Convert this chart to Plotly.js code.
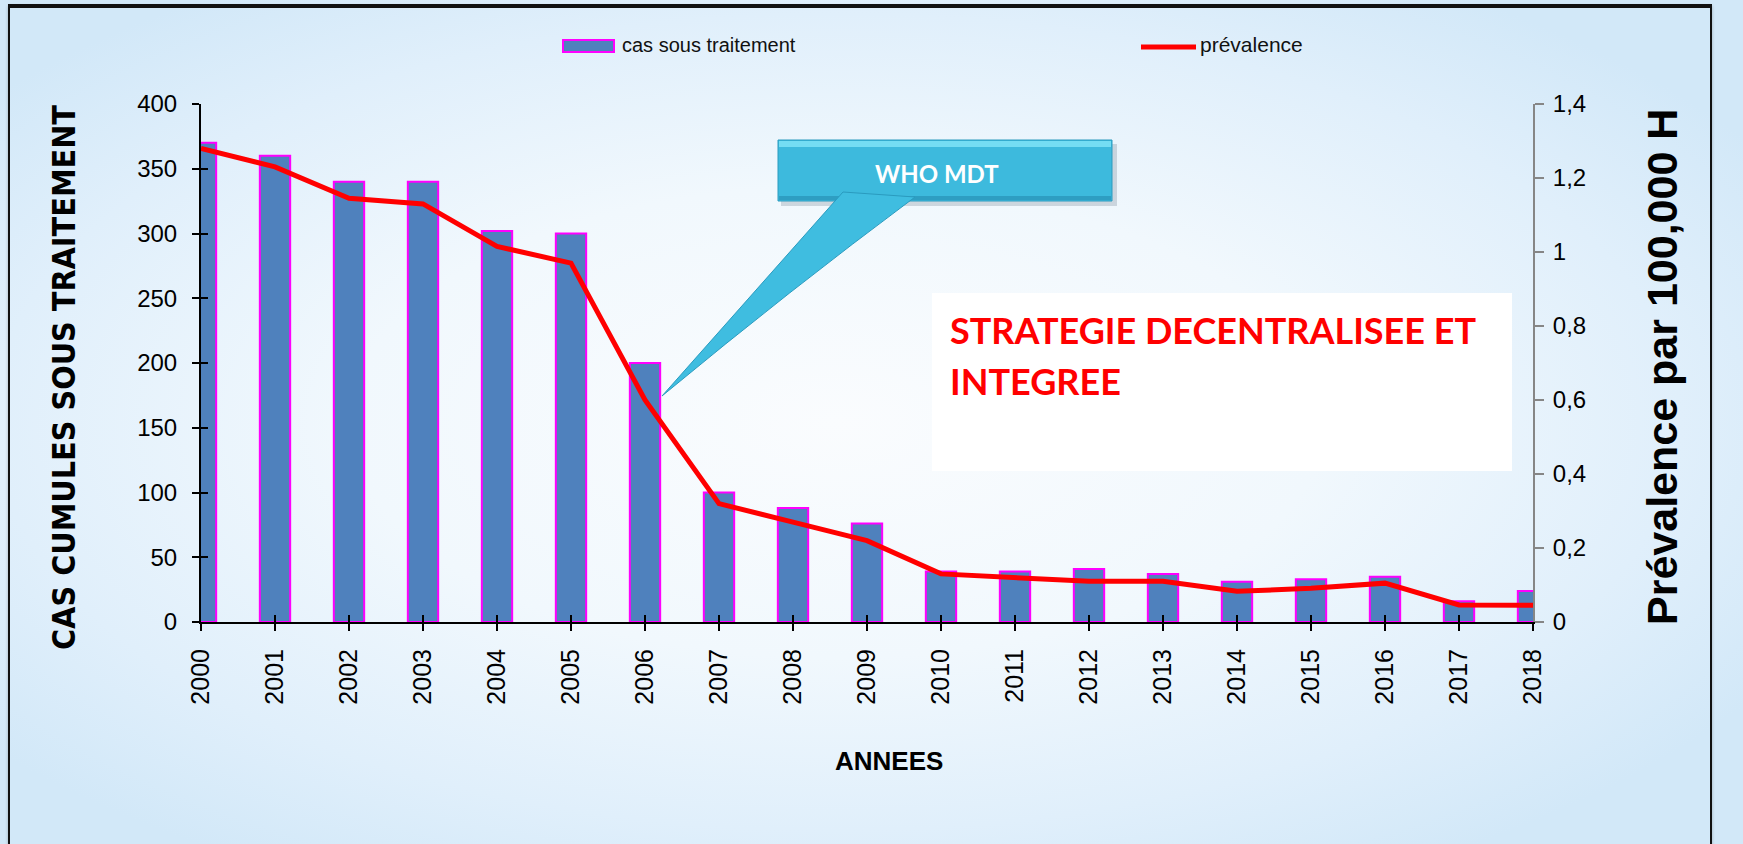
<!DOCTYPE html>
<html>
<head>
<meta charset="utf-8">
<script src="https://cdn.plot.ly/plotly-3.0.1.min.js"></script>
<style>
  html, body { margin:0; padding:0; }
  body { width:1743px; height:844px; overflow:hidden; position:relative;
         background: radial-gradient(ellipse 62% 62% at 48% 50%, #fafcfe 0%, #f1f8fd 45%, #e0effb 78%, #d2e8f8 100%); }
  #frame { position:absolute; left:8px; top:4px; width:1700px; height:860px;
           border-left:2px solid #111; border-right:2px solid #111; border-top:4px solid #111;
           box-shadow: 0 2px 3px rgba(0,0,0,0.25); }
  #chart { position:absolute; left:0; top:0; width:1743px; height:844px; }
</style>
</head>
<body>
<div id="frame"></div>
<div id="chart"></div>
<script>
// ---- data ----
const years = [2000,2001,2002,2003,2004,2005,2006,2007,2008,2009,2010,2011,2012,2013,2014,2015,2016,2017,2018];
const yearLabels = ["2000","2001","2002","2003","2004","2005","2006","2007","2008","2009","2010","2011","2012","2013","2014","2015","2016","2017","2018"];
const casSousTraitement = [370,360,340,340,302,300,200,100,88,76,39,39,41,37,31,33,35,16,24];
const prevalence = [1.28,1.23,1.145,1.13,1.015,0.97,0.60,0.32,0.27,0.22,0.13,0.12,0.11,0.11,0.083,0.091,0.105,0.046,0.045];
const leftTicks = [0,50,100,150,200,250,300,350,400];
const rightTicks = [0,0.2,0.4,0.6,0.8,1,1.2,1.4];
const rightTickText = ["0","0,2","0,4","0,6","0,8","1","1,2","1,4"];
const seriesNames = ["cas sous traitement","prévalence"];

const FONT = "Liberation Sans, Arial, Helvetica, sans-serif";
const COND = "DejaVu Sans Condensed, DejaVu Sans, sans-serif";
const CALI = "Lato, Open Sans, sans-serif";

const traces = [
  { type:'bar', name:seriesNames[0], x:years, y:casSousTraitement, width:0.41,
    marker:{color:'#4F81BD', line:{color:'#FF00FF', width:2}},
    xaxis:'x', yaxis:'y', showlegend:false, hoverinfo:'x+y' },
  { type:'scatter', mode:'lines', name:seriesNames[1], x:years, y:prevalence,
    line:{color:'#FF0000', width:5}, xaxis:'x', yaxis:'y2', showlegend:false, hoverinfo:'x+y' },
  { type:'scatter', mode:'lines', x:[], y:[], xaxis:'x2', yaxis:'y', showlegend:false, hoverinfo:'skip' },
  { type:'scatter', mode:'lines', x:[], y:[], xaxis:'x', yaxis:'y3', showlegend:false, hoverinfo:'skip' }
];

// paper helpers (plot area: x 201..1533, y 104..622)
const L=201, R=1533, T=104, B=622;
const px = v => (v-L)/(R-L);
const py = v => (B-v)/(B-T);

const shapes = [
  // legend symbols
  {type:'rect', xref:'paper', yref:'paper', x0:px(563), x1:px(614), y0:py(52), y1:py(40),
   fillcolor:'#4F81BD', line:{color:'#FF00FF', width:2}},
  {type:'line', xref:'paper', yref:'paper', x0:px(1141), x1:px(1196), y0:py(47), y1:py(47),
   line:{color:'#FF0000', width:5}},
  // white text box
  {type:'rect', xref:'paper', yref:'paper', x0:px(932), x1:px(1512), y0:py(471), y1:py(293),
   fillcolor:'#FFFFFF', line:{width:0}},
  // callout shadow
  {type:'rect', xref:'paper', yref:'paper', x0:px(781), x1:px(1117), y0:py(206), y1:py(144),
   fillcolor:'rgba(60,80,100,0.20)', line:{width:0}},
  // callout box
  {type:'rect', xref:'paper', yref:'paper', x0:px(778), x1:px(1112), y0:py(201), y1:py(140),
   fillcolor:'#3DBADD', line:{color:'#2A9BBF', width:1}},
  {type:'rect', xref:'paper', yref:'paper', x0:px(779), x1:px(1111), y0:py(147), y1:py(141),
   fillcolor:'#74DDF3', line:{width:0}},
  {type:'rect', xref:'paper', yref:'paper', x0:px(779), x1:px(1111), y0:py(200), y1:py(196),
   fillcolor:'#2E9EC2', line:{width:0}},
  // callout tail
  {type:'path', xref:'paper', yref:'paper',
   path:`M ${px(843)} ${py(192)} L ${px(662)} ${py(396)} Q ${px(790)} ${py(290)} ${px(915)} ${py(197)} Z`,
   fillcolor:'#3FBDE0', line:{color:'#2A9BBF', width:1}}
];

const annotations = [
  {xref:'paper', yref:'paper', x:px(620), y:py(45), xanchor:'left', yanchor:'middle', showarrow:false,
   text:seriesNames[0], font:{family:FONT, size:20, color:'#111'}},
  {xref:'paper', yref:'paper', x:px(1198), y:py(45), xanchor:'left', yanchor:'middle', showarrow:false,
   text:seriesNames[1], font:{family:FONT, size:21, color:'#111'}},
  {xref:'paper', yref:'paper', x:px(64), y:py(378), xanchor:'center', yanchor:'middle', showarrow:false,
   textangle:-90, text:'<b>CAS CUMULES SOUS TRAITEMENT</b>', font:{family:COND, size:32, color:'#000'}},
  {xref:'paper', yref:'paper', x:px(1662), y:py(367), xanchor:'center', yanchor:'middle', showarrow:false,
   textangle:-90, text:'<b>Prévalence par 100,000 H</b>', font:{family:FONT, size:43, color:'#000'}},
  {xref:'paper', yref:'paper', x:px(889), y:py(761), xanchor:'center', yanchor:'middle', showarrow:false,
   text:'<b>ANNEES</b>', font:{family:FONT, size:26, color:'#000'}},
  {xref:'paper', yref:'paper', x:px(937), y:py(174), xanchor:'center', yanchor:'middle', showarrow:false,
   text:'<b>WHO MDT</b>', font:{family:CALI, size:24, color:'#FFFFFF'}},
  {xref:'paper', yref:'paper', x:px(948), y:py(330), xanchor:'left', yanchor:'middle', showarrow:false,
   text:'<b>STRATEGIE DECENTRALISEE ET</b>', font:{family:CALI, size:36, color:'#FF0000'}},
  {xref:'paper', yref:'paper', x:px(948), y:py(381), xanchor:'left', yanchor:'middle', showarrow:false,
   text:'<b>INTEGREE</b>', font:{family:CALI, size:36, color:'#FF0000'}}
];

const layout = {
  width:1743, height:844,
  margin:{l:L, r:1743-R, t:T, b:844-B, pad:0},
  paper_bgcolor:'rgba(0,0,0,0)', plot_bgcolor:'rgba(0,0,0,0)',
  showlegend:false,
  separators:', ',
  font:{family:FONT, color:'#000'},
  xaxis:{type:'linear', range:[2000,2018], tickvals:years, ticktext:yearLabels, tickangle:-90,
         ticks:'outside', ticklen:7, tickwidth:2, tickcolor:'#000', ticklabelstandoff:8,
         showline:true, linecolor:'#000', linewidth:2, showgrid:false, zeroline:false,
         tickfont:{family:FONT, size:25, color:'#000'}, fixedrange:true},
  xaxis2:{type:'linear', overlaying:'x', anchor:'y', side:'bottom', range:[2000,2018], tickvals:years,
          ticks:'inside', ticklen:7, tickwidth:2, tickcolor:'#000', showticklabels:false,
          showline:false, showgrid:false, zeroline:false, fixedrange:true},
  yaxis:{range:[0,400], tickvals:leftTicks, ticks:'outside', ticklen:7, tickwidth:2, tickcolor:'#000',
         ticklabelstandoff:10, showline:true, linecolor:'#000', linewidth:2, showgrid:false, zeroline:false,
         tickfont:{family:FONT, size:24, color:'#000'}, fixedrange:true},
  yaxis3:{range:[0,400], overlaying:'y', anchor:'x', side:'left', tickvals:leftTicks, ticks:'inside', ticklen:7,
          tickwidth:2, tickcolor:'#000', showticklabels:false, showline:false, showgrid:false, zeroline:false, fixedrange:true},
  yaxis2:{range:[0,1.4], overlaying:'y', anchor:'x', side:'right', tickvals:rightTicks, ticktext:rightTickText,
          ticks:'outside', ticklen:9, tickwidth:2, tickcolor:'#868686', ticklabelstandoff:4,
          showline:true, linecolor:'#868686', linewidth:2, showgrid:false, zeroline:false,
          tickfont:{family:FONT, size:24, color:'#000'}, fixedrange:true},
  shapes:shapes,
  annotations:annotations
};

Plotly.newPlot('chart', traces, layout, {displayModeBar:false, staticPlot:true});
</script>
</body>
</html>
